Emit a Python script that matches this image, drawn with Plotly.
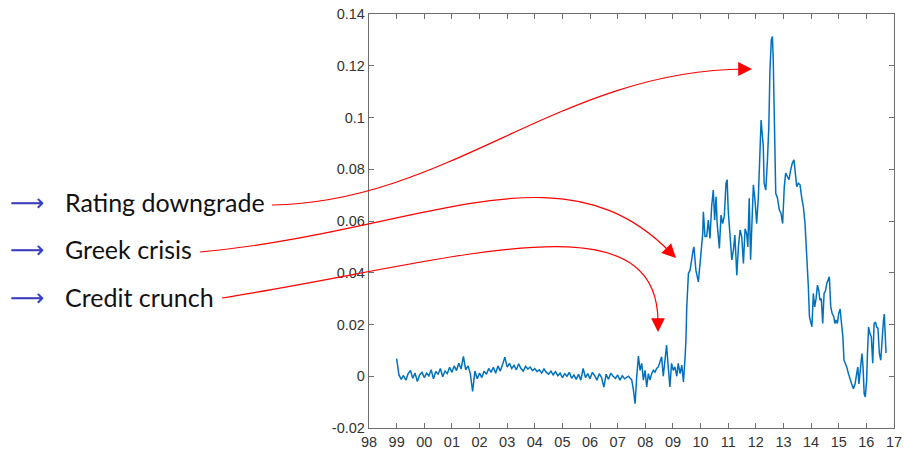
import plotly.graph_objects as go

# ---------------- data ----------------
# monthly values 1999.00 .. 2007.25
early_start = 1999.0
early_values = [
    0.0068, 0.0005, -0.0012, 0.0003, -0.0015, 0.0010, 0.0022, -0.0008, 0.0012, -0.0020, 0.0005, 0.0015,
    -0.0005, 0.0012, 0.0002, 0.0025, -0.0010, 0.0018, 0.0008, 0.0030, -0.0002, 0.0020, 0.0010, 0.0035,
    0.0015, 0.0040, 0.0022, 0.0050, 0.0028, 0.0077, 0.0025, 0.0040, 0.0010, -0.0059, 0.0020, -0.0010,
    0.0012, -0.0005, 0.0020, 0.0008, 0.0030, 0.0015, 0.0035, 0.0012, 0.0040, 0.0020, 0.0045, 0.0074,
    0.0035, 0.0050, 0.0030, 0.0042, 0.0025, 0.0048, 0.0030, 0.0020, 0.0038, 0.0028, 0.0035, 0.0022,
    0.0030, 0.0018, 0.0025, 0.0012, 0.0028, 0.0015, 0.0008, 0.0020, 0.0005, 0.0018, 0.0002, 0.0012,
    -0.0005, 0.0010, 0.0000, 0.0015, -0.0008, 0.0005, -0.0012, 0.0008, -0.0015, 0.0030, -0.0005, 0.0010,
    -0.0010, 0.0015, 0.0002, -0.0015, 0.0010, -0.0005, -0.0042, 0.0008, -0.0012, 0.0012, 0.0000, -0.0008,
    0.0005, -0.0015, 0.0002, -0.0010,
]
early_years = [early_start + i / 12 for i in range(len(early_values))]

late_years = [
    2007.39, 2007.51, 2007.57, 2007.63, 2007.69, 2007.75, 2007.81, 2007.87, 2007.93, 2007.99,
    2008.05, 2008.11, 2008.17, 2008.23, 2008.29, 2008.35, 2008.41, 2008.47, 2008.53, 2008.59,
    2008.65, 2008.71, 2008.77, 2008.83, 2008.89, 2008.95, 2009.01, 2009.07, 2009.14, 2009.19,
    2009.26, 2009.32, 2009.38, 2009.44, 2009.47, 2009.50, 2009.56, 2009.62, 2009.68, 2009.73,
    2009.76, 2009.83, 2009.92, 2010.00, 2010.08, 2010.10, 2010.16, 2010.22, 2010.28, 2010.34,
    2010.40, 2010.46, 2010.51, 2010.56, 2010.60, 2010.68, 2010.74, 2010.80, 2010.86, 2010.92,
    2010.96, 2011.00, 2011.07, 2011.13, 2011.19, 2011.24, 2011.28, 2011.31, 2011.37, 2011.43,
    2011.49, 2011.55, 2011.61, 2011.67, 2011.71, 2011.76, 2011.81, 2011.86, 2011.91, 2011.97,
    2012.03, 2012.09, 2012.15, 2012.19, 2012.22, 2012.27, 2012.30, 2012.36, 2012.42, 2012.47,
    2012.51, 2012.56, 2012.60, 2012.63, 2012.67, 2012.72, 2012.78, 2012.85, 2012.91, 2012.97,
    2013.03, 2013.08, 2013.14, 2013.20, 2013.26, 2013.32, 2013.38, 2013.43, 2013.48, 2013.54,
    2013.60, 2013.66, 2013.72, 2013.78, 2013.84, 2013.90, 2013.94, 2013.99, 2014.03, 2014.08,
    2014.13, 2014.18, 2014.23, 2014.28, 2014.32, 2014.37, 2014.42, 2014.47, 2014.52, 2014.57,
    2014.61, 2014.66, 2014.71, 2014.76, 2014.82, 2014.86, 2014.91, 2014.95, 2015.00, 2015.05,
    2015.10, 2015.15, 2015.19, 2015.24, 2015.29, 2015.35, 2015.41, 2015.47, 2015.53, 2015.59,
    2015.65, 2015.69, 2015.73, 2015.79, 2015.84, 2015.88, 2015.92, 2015.96, 2016.01, 2016.04,
    2016.08, 2016.13, 2016.18, 2016.23, 2016.28, 2016.33, 2016.37, 2016.42, 2016.47, 2016.52,
    2016.57, 2016.62, 2016.65, 2016.69, 2016.71,
]
late_values = [
    0.0000, -0.0015, -0.0054, -0.0106, 0.0000, 0.0078, 0.0023, 0.0050, -0.0015, 0.0023,
    -0.0041, 0.0010, -0.0015, 0.0010, 0.0023, 0.0016, 0.0030, 0.0036, 0.0055, 0.0075,
    0.0000, 0.0075, 0.0120, 0.0036, -0.0041, 0.0050, 0.0023, 0.0036, 0.0000, 0.0050,
    0.0010, 0.0043, -0.0022, 0.0075, 0.0140, 0.0268, 0.0397, 0.0410, 0.0460, 0.0488,
    0.0500, 0.0410, 0.0365, 0.0450, 0.0553, 0.0636, 0.0540, 0.0540, 0.0604, 0.0533,
    0.0655, 0.0720, 0.0604, 0.0694, 0.0591, 0.0494, 0.0623, 0.0590, 0.0620, 0.0746,
    0.0760, 0.0642, 0.0540, 0.0449, 0.0488, 0.0546, 0.0460, 0.0390, 0.0500, 0.0565,
    0.0540, 0.0436, 0.0570, 0.0550, 0.0500, 0.0688, 0.0450, 0.0600, 0.0740, 0.0680,
    0.0590, 0.0690, 0.0860, 0.0990, 0.0950, 0.0888, 0.0746, 0.0720, 0.0836, 0.0965,
    0.1180, 0.1300, 0.1313, 0.1220, 0.0990, 0.0707, 0.0690, 0.0642, 0.0630, 0.0590,
    0.0733, 0.0785, 0.0772, 0.0760, 0.0797, 0.0824, 0.0836, 0.0785, 0.0733, 0.0746,
    0.0740, 0.0690, 0.0655, 0.0590, 0.0488, 0.0346, 0.0230, 0.0210, 0.0191, 0.0320,
    0.0268, 0.0300, 0.0352, 0.0330, 0.0294, 0.0300, 0.0204, 0.0320, 0.0330, 0.0360,
    0.0370, 0.0384, 0.0270, 0.0243, 0.0230, 0.0204, 0.0217, 0.0204, 0.0243, 0.0260,
    0.0204, 0.0152, 0.0062, 0.0050, 0.0036, 0.0010, -0.0015, -0.0030, -0.0048, -0.0030,
    0.0010, 0.0036, -0.0030, 0.0036, 0.0088, 0.0036, -0.0067, -0.0080, -0.0015, 0.0088,
    0.0190, 0.0165, 0.0152, 0.0050, 0.0204, 0.0210, 0.0191, 0.0185, 0.0088, 0.0062,
    0.0152, 0.0217, 0.0240, 0.0139, 0.0090,
]

x_tick_vals = list(range(1998, 2018))
x_tick_text = ["98", "99", "00", "01", "02", "03", "04", "05", "06", "07",
               "08", "09", "10", "11", "12", "13", "14", "15", "16", "17"]
y_tick_vals = [-0.02, 0, 0.02, 0.04, 0.06, 0.08, 0.10, 0.12, 0.14]
y_tick_text = ["-0.02", "0", "0.02", "0.04", "0.06", "0.08", "0.1", "0.12", "0.14"]

labels = ["Rating downgrade", "Greek crisis", "Credit crunch"]

# ---------------- layout geometry ----------------
W, H = 904, 451
L, R, T, B = 369, 10, 14, 23
PW, PH = W - L - R, H - T - B


def px(x):
    return (x - L) / PW


def py(y):
    return (H - B - y) / PH


years = early_years + late_years
values = early_values + late_values

fig = go.Figure()
fig.add_trace(go.Scatter(x=years, y=values, mode="lines",
                         line=dict(color="#0072BD", width=1.5),
                         hoverinfo="skip", showlegend=False))

axis_common = dict(showline=True, linecolor="#6e6e6e", linewidth=1.2, mirror="ticks",
                   ticks="inside", ticklen=5, tickcolor="#6e6e6e", tickwidth=1,
                   showgrid=False, zeroline=False, automargin=False,
                   tickfont=dict(family="Liberation Sans, Arial, sans-serif", size=14.5, color="#333333"))

fig.update_xaxes(range=[1998, 2017], tickvals=x_tick_vals, ticktext=x_tick_text, **axis_common)
fig.update_yaxes(range=[-0.02, 0.14], tickvals=y_tick_vals, ticktext=y_tick_text, **axis_common)

# label positions (pixel centers) and red curve control points (pixels)
label_rows = [202, 249, 297]
curves = [
    [(272, 205), (450, 202), (560, 70), (745, 69)],
    [(200, 252), (420, 232), (560, 140), (670, 252)],
    [(222, 298), (450, 262), (658, 192), (658, 322)],
]
tips = [(752, 69), (676, 258), (658, 332)]

annotations = []
shapes = []
for lab, yc in zip(labels, label_rows):
    annotations.append(dict(x=px(8), y=py(yc + 1), xref="paper", yref="paper", text="⟶",
                            showarrow=False, xanchor="left", yanchor="middle",
                            font=dict(family="DejaVu Sans", size=24, color="#3b3bbf")))
    annotations.append(dict(x=px(63), y=py(yc), xref="paper", yref="paper", text=lab,
                            showarrow=False, xanchor="left", yanchor="middle",
                            font=dict(family="Lato, sans-serif", size=25, color="#111111")))

for pts, tip in zip(curves, tips):
    (x0, y0), (x1, y1), (x2, y2), (x3, y3) = pts
    path = "M {} {} C {} {}, {} {}, {} {}".format(
        px(x0), py(y0), px(x1), py(y1), px(x2), py(y2), px(x3), py(y3))
    shapes.append(dict(type="path", path=path, xref="paper", yref="paper",
                       line=dict(color="#ff0000", width=1.2), layer="above"))
    annotations.append(dict(x=px(tip[0]), y=py(tip[1]), xref="paper", yref="paper", text="",
                            showarrow=True, arrowhead=2, arrowsize=2.3, arrowwidth=1.2,
                            arrowcolor="#ff0000", ax=x3 - tip[0], ay=y3 - tip[1], standoff=0))

fig.update_layout(width=W, height=H, margin=dict(l=L, r=R, t=T, b=B),
                  paper_bgcolor="white", plot_bgcolor="white",
                  shapes=shapes, annotations=annotations)

fig.write_html("out.html", config={"displayModeBar": False, "staticPlot": True},
               post_script="document.body.style.margin='0';document.body.style.overflow='hidden';")
